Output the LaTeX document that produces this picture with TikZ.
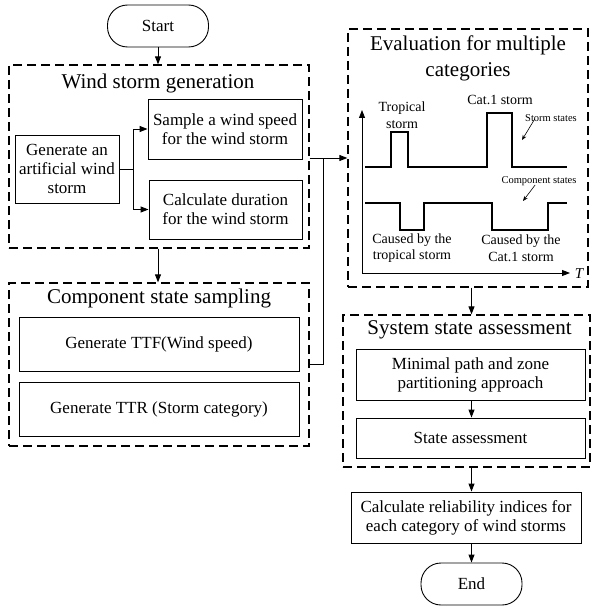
\documentclass[tikz,border=0pt]{standalone}
\usepackage{fontspec}
\setmainfont{Liberation Serif}
\usetikzlibrary{arrows.meta}

\tikzset{every picture/.style={line width=0.9pt}}
\tikzset{
  box/.style={draw, inner sep=0pt, align=center, font=\fontsize{17}{19}\selectfont},
  grp/.style={draw, dash pattern=on 9pt off 5pt, line width=1.3pt, inner sep=0pt},
  term/.style={draw, rounded corners=20pt, inner sep=0pt, minimum width=101, minimum height=42, font=\fontsize{17}{19}\selectfont},
  ttl/.style={inner sep=0pt, align=center, font=\fontsize{21}{26}\selectfont},
  lbl/.style={inner sep=0pt, align=center, font=\fontsize{14}{16.5}\selectfont},
  tinylbl/.style={inner sep=0pt, font=\fontsize{10.5}{12}\selectfont},
  arr/.style={-{Triangle[length=8pt,width=6pt]}},
  sarr/.style={-{Stealth[length=5pt,width=4pt]}, line width=0.6pt},
  sig/.style={line width=1.1pt}
}

\begin{document}
\begin{tikzpicture}[x=1pt,y=1pt,yscale=-1,xscale=1]
\path[use as bounding box] (0,0) rectangle (591,607);

%Terminal: Start
\node[term] (start) at (158,26) {Start};

%Group: wind storm generation
\node[grp, minimum width=300, minimum height=183] (wind) at (159,156.5) {};
\node[ttl] (windttl) at (158,83) {Wind storm generation};
\node[box, minimum width=104, minimum height=68] (gen) at (67,169) {Generate an\\artificial wind\\storm};
\node[box, minimum width=154, minimum height=60] (samp) at (225,129) {Sample a wind speed\\for the wind storm};
\node[box, minimum width=153, minimum height=59] (dur) at (225.5,209.5) {Calculate duration\\for the wind storm};
\coordinate (fork) at (133,169);

%Group: component state sampling
\node[grp, minimum width=300, minimum height=163] (comp) at (159,364.5) {};
\node[ttl] (compttl) at (159,298) {Component state sampling};
\node[box, minimum width=280, minimum height=54] (ttf) at (159,344) {Generate TTF(Wind speed)};
\node[box, minimum width=280, minimum height=54] (ttr) at (159,409) {Generate TTR (Storm category)};
\coordinate (jn) at (323,158);

%Group: evaluation for multiple categories
\node[grp, minimum width=240, minimum height=258] (eval) at (468,158) {};
\node[ttl] (evalttl) at (468,58) {Evaluation for multiple\\categories};

%Group: system state assessment
\node[grp, minimum width=247, minimum height=152] (sys) at (466.5,391) {};
\node[ttl] (systtl) at (469.5,330) {System state assessment};
\node[box, minimum width=229, minimum height=51] (minp) at (470.5,374.5) {Minimal path and zone\\partitioning approach};
\node[box, minimum width=229, minimum height=40] (stass) at (470.5,438) {State assessment};

%Calculation and End
\node[box, minimum width=230, minimum height=51] (calc) at (466,517.5) {Calculate reliability indices for\\each category of wind storms};
\node[term] (stop) at (471.5,584) {End};

%Straight Lines: flow
\draw[arr] (start.south) -- (start.south |- wind.north);
\draw (gen.east) -- (fork);
\draw[arr] (fork) |- (samp.west);
\draw[arr] (fork) |- (dur.west);
\draw[arr] (wind.south -| start) -- (comp.north -| start);
\draw (comp.east) -| (jn);
\draw[arr] (wind.east |- eval.west) -- (eval.west);
\draw[arr] (eval.south -| stop) -- (sys.north -| stop);
\draw[arr] (minp.south -| stop) -- (stass.north -| stop);
\draw[arr] (sys.south -| stop) -- (calc.north -| stop);
\draw[arr] (calc.south -| stop) -- (stop.north);

%Chart: axes
\coordinate (o) at (362,273);
\draw[arr] (o) -- (362,110);
\draw[arr] (o) -- (570,273);
\node[inner sep=0pt, font=\fontsize{15}{16}\selectfont\itshape] (tlab) at (579,274) {T};

%Chart: storm states and component states
\draw[sig] (365,167) -- (391,167) -- (391,132) -- (408,132) -- (408,167) -- (487,167) -- (487,113) -- (512,113) -- (512,167) -- (567,167);
\draw[sig] (365,203) -- (400,203) -- (400,230) -- (424,230) -- (424,203) -- (492,203) -- (492,230) -- (548,230) -- (548,203) -- (567,203);

% Text Node
\node[lbl] (trop) at (402,115) {Tropical\\storm};
\node[lbl] (cat) at (500,100) {Cat.1 storm};
\node[tinylbl] (sst) at (551,118) {Storm states};
\node[tinylbl] (cst) at (539,181) {Component states};
\node[lbl] (cbt) at (412,248) {Caused by the\\tropical storm};
\node[lbl] (cbc) at (521,248) {Caused by the\\Cat.1 storm};
\coordinate (sstip) at (522,140);
\coordinate (csttip) at (523,201);
\draw[sarr] ([xshift=10pt,yshift=-3pt]sst.south west) -- (sstip);
\draw[sarr] ([xshift=34pt,yshift=-1pt]cst.south west) -- (csttip);

\end{tikzpicture}
\end{document}
